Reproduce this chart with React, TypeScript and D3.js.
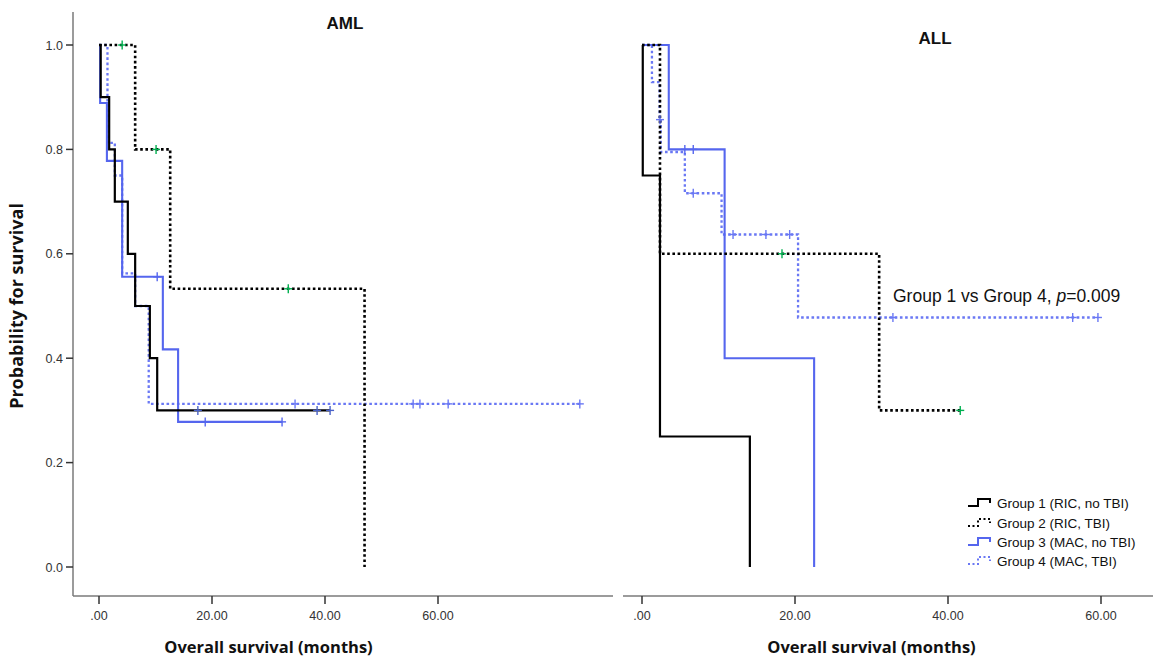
import React from "react";
import * as d3 from "d3";

// ---------- data ----------
const xTicks = [0, 20, 40, 60];
const yTicks = [0, 0.2, 0.4, 0.6, 0.8, 1.0];
const groupLabels = [
  "Group 1 (RIC, no TBI)",
  "Group 2 (RIC, TBI)",
  "Group 3 (MAC, no TBI)",
  "Group 4 (MAC, TBI)",
];

// AML panel
const amlG1Times = [0, 0.3, 1.8, 2.8, 5.1, 6.4, 9.0, 10.3];
const amlG1Surv = [1, 0.9, 0.8, 0.7, 0.6, 0.5, 0.4, 0.3];
const amlG1End = 40.9;
const amlG1Cens = [17.5, 38.6, 40.9];

const amlG2Times = [0, 6.4, 12.6, 47.0];
const amlG2Surv = [1, 0.8, 0.533, 0];
const amlG2End = 47.0;
const amlG2Cens = [4.1, 10.1, 33.5];

const amlG3Times = [0, 0.2, 1.4, 4.1, 11.3, 14.0];
const amlG3Surv = [1, 0.889, 0.778, 0.556, 0.417, 0.278];
const amlG3End = 32.4;
const amlG3Cens = [10.3, 18.8, 32.4];

const amlG4Times = [0, 1.5, 2.8, 4.1, 6.4, 8.8];
const amlG4Surv = [1, 0.8125, 0.75, 0.5625, 0.5, 0.3125];
const amlG4End = 85.1;
const amlG4Cens = [34.7, 55.6, 56.8, 61.8, 85.1];

// ALL panel
const allG1Times = [0, 0.1, 2.35, 14.1];
const allG1Surv = [1, 0.75, 0.25, 0];
const allG1End = 14.1;
const allG1Cens: number[] = [];

const allG2Times = [0, 2.35, 31.0];
const allG2Surv = [1, 0.6, 0.3];
const allG2End = 41.6;
const allG2Cens = [18.3, 41.6];

const allG3Times = [0, 3.5, 10.8, 22.5];
const allG3Surv = [1, 0.8, 0.4, 0];
const allG3End = 22.5;
const allG3Cens = [5.6, 6.7];

const allG4Times = [0, 1.3, 2.3, 2.45, 5.6, 10.4, 20.4];
const allG4Surv = [1, 0.929, 0.857, 0.795, 0.716, 0.637, 0.478];
const allG4End = 59.6;
const allG4Cens = [2.35, 6.7, 11.9, 16.2, 19.3, 32.8, 56.3, 59.6];

const annotationText = "Group 1 vs Group 4, ";
const annotationP = "p";
const annotationVal = "=0.009";

// ---------- styles ----------
const BLUE = "#5566ee";
const BLUE_DOT = "#6a78f4";
const GREEN = "#00b050";
const styles = [
  { stroke: "#000", width: 2.2, dash: undefined as string | undefined, cens: "#4a62c8" },
  { stroke: "#000", width: 2.6, dash: "2.6 2.6", cens: GREEN },
  { stroke: BLUE, width: 2.1, dash: undefined, cens: BLUE },
  { stroke: BLUE_DOT, width: 2.3, dash: "2.6 2.6", cens: BLUE_DOT },
];

type Series = { times: number[]; surv: number[]; end: number; cens: number[] };

const amlSeries: Series[] = [
  { times: amlG1Times, surv: amlG1Surv, end: amlG1End, cens: amlG1Cens },
  { times: amlG2Times, surv: amlG2Surv, end: amlG2End, cens: amlG2Cens },
  { times: amlG3Times, surv: amlG3Surv, end: amlG3End, cens: amlG3Cens },
  { times: amlG4Times, surv: amlG4Surv, end: amlG4End, cens: amlG4Cens },
];
const allSeries: Series[] = [
  { times: allG1Times, surv: allG1Surv, end: allG1End, cens: allG1Cens },
  { times: allG2Times, surv: allG2Surv, end: allG2End, cens: allG2Cens },
  { times: allG3Times, surv: allG3Surv, end: allG3End, cens: allG3Cens },
  { times: allG4Times, surv: allG4Surv, end: allG4End, cens: allG4Cens },
];

const y = d3.scaleLinear().domain([0, 1]).range([567, 45]);
const xL = d3.scaleLinear().domain([0, 60]).range([99, 438]);
const xR = d3.scaleLinear().domain([0, 60]).range([642, 1101]);

const AXIS_Y = 596;
const AXIS_COLOR = "#7a7a7a";
const FONT = "'Liberation Sans', Arial, sans-serif";
const TITLE_FONT = "'Open Sans', 'Liberation Sans', sans-serif";

function survAt(s: Series, t: number) {
  let v = s.surv[0];
  for (let i = 0; i < s.times.length; i++) if (s.times[i] <= t) v = s.surv[i];
  return v;
}

function Curves({ series, x }: { series: Series[]; x: d3.ScaleLinear<number, number> }) {
  const line = d3
    .line<[number, number]>()
    .x((d) => x(d[0]))
    .y((d) => y(d[1]))
    .curve(d3.curveStepAfter);
  const order = [3, 2, 0, 1];
  return (
    <g>
      {order.map((gi) => {
        const s = series[gi];
        const st = styles[gi];
        const pts: [number, number][] = s.times.map((t, i) => [t, s.surv[i]]);
        const last = s.surv[s.surv.length - 1];
        if (s.end > s.times[s.times.length - 1]) pts.push([s.end, last]);
        return (
          <path
            key={"l" + gi}
            d={line(pts) || ""}
            fill="none"
            stroke={st.stroke}
            strokeWidth={st.width}
            strokeDasharray={st.dash}
          />
        );
      })}
      {order.map((gi) => {
        const s = series[gi];
        const st = styles[gi];
        return (
          <g key={"c" + gi} stroke={st.cens} strokeWidth={1.4}>
            {s.cens.map((c, j) => {
              const cx = x(c);
              const cy = y(survAt(s, c));
              return (
                <g key={j}>
                  <line x1={cx - 4} x2={cx + 4} y1={cy} y2={cy} />
                  <line x1={cx} x2={cx} y1={cy - 4.5} y2={cy + 4.5} />
                </g>
              );
            })}
          </g>
        );
      })}
    </g>
  );
}

function XAxis({
  x,
  x0,
  x1,
  titleAt,
}: {
  x: d3.ScaleLinear<number, number>;
  x0: number;
  x1: number;
  titleAt: number;
}) {
  return (
    <g>
      <line x1={x0} x2={x1} y1={AXIS_Y} y2={AXIS_Y} stroke={AXIS_COLOR} strokeWidth={1.5} />
      {xTicks.map((t) => (
        <g key={t}>
          <line x1={x(t)} x2={x(t)} y1={AXIS_Y} y2={AXIS_Y + 8} stroke="#333" strokeWidth={1.5} />
          <text
            x={x(t)}
            y={AXIS_Y + 24}
            textAnchor="middle"
            fontFamily={FONT}
            fontSize={12.5}
            fill="#333"
          >
            {t === 0 ? ".00" : d3.format(".2f")(t)}
          </text>
        </g>
      ))}
      <text
        x={x(titleAt)}
        y={AXIS_Y + 57}
        textAnchor="middle"
        fontFamily={TITLE_FONT}
        fontWeight="bold"
        fontSize={16.5}
        fill="#111"
      >
        Overall survival (months)
      </text>
    </g>
  );
}

function Legend() {
  const lx = 968;
  const ys = [503, 523, 542, 561];
  return (
    <g>
      {groupLabels.map((lab, i) => {
        const st = styles[i];
        const yy = ys[i];
        return (
          <g key={lab}>
            <path
              d={`M${lx},${yy + 3}H${lx + 10}V${yy - 4}H${lx + 22}V${yy}`}
              fill="none"
              stroke={st.stroke}
              strokeWidth={2}
              strokeDasharray={i % 2 === 1 ? "2 2.5" : undefined}
            />
            <text x={lx + 29} y={yy + 4.5} fontFamily={FONT} fontSize={13.5} fill="#111">
              {lab}
            </text>
          </g>
        );
      })}
    </g>
  );
}

export default function App() {
  return (
    <svg
      width={1153}
      height={662}
      style={{ position: "absolute", left: 0, top: 0, background: "#fff", display: "block" }}
    >
      <rect x={0} y={0} width={1153} height={662} fill="#fff" />
      <line x1={73} x2={73} y1={12} y2={AXIS_Y} stroke={AXIS_COLOR} strokeWidth={1.5} />
      {yTicks.map((t) => (
        <g key={t}>
          <line x1={66} x2={73} y1={y(t)} y2={y(t)} stroke="#333" strokeWidth={1.5} />
          <text
            x={63}
            y={y(t) + 4.5}
            textAnchor="end"
            fontFamily={FONT}
            fontSize={12.5}
            fill="#333"
          >
            {d3.format(".1f")(t)}
          </text>
        </g>
      ))}
      <text
        transform={`translate(23,${306}) rotate(-90)`}
        textAnchor="middle"
        fontFamily={TITLE_FONT}
        fontWeight="bold"
        fontSize={18}
        fill="#111"
      >
        Probability for survival
      </text>

      <XAxis x={xL} x0={73} x1={613} titleAt={30} />
      <XAxis x={xR} x0={623} x1={1153} titleAt={30} />

      <text x={345} y={29} textAnchor="middle" fontFamily={FONT} fontWeight="bold" fontSize={17} fill="#111">
        AML
      </text>
      <text x={935} y={44} textAnchor="middle" fontFamily={FONT} fontWeight="bold" fontSize={17} fill="#111">
        ALL
      </text>

      <Curves series={amlSeries} x={xL} />
      <Curves series={allSeries} x={xR} />

      <text x={893} y={302} fontFamily={FONT} fontSize={17.5} fill="#111">
        {annotationText}
        <tspan fontStyle="italic">{annotationP}</tspan>
        {annotationVal}
      </text>

      <Legend />
    </svg>
  );
}
